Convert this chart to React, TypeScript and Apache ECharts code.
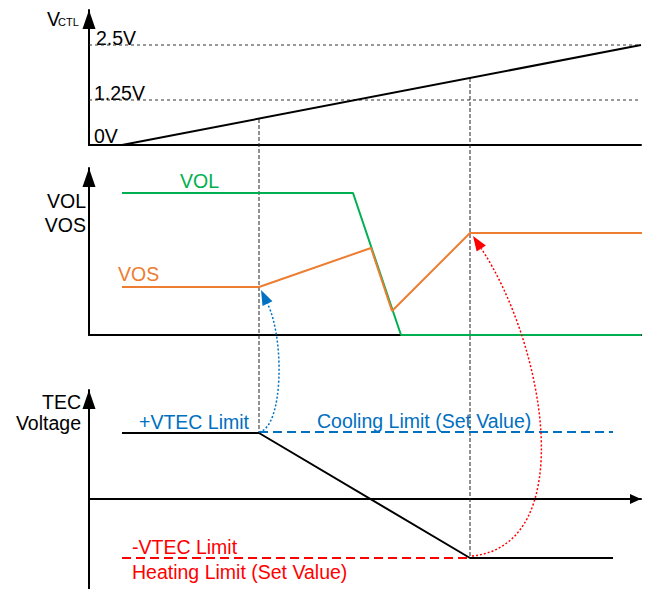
import React, { useEffect, useRef } from 'react';
import * as echarts from 'echarts';

// ---- data (time axis: 0..552 units from the vertical axes) ----
const T_MAX = 552;

// Top panel: V_CTL ramp and reference levels
const vctlRamp = [[33, 0], [552, 100]];
const vctlLevels = [
  { name: '2.5V', value: 100 },
  { name: '1.25V', value: 45 },
];
const vctlLabels = ['0V'];

// Middle panel: VOL / VOS
const volLine = [[33, 142], [264, 142], [312, 0], [552, 0]];
const vosLine = [[33, 48], [170, 48], [282, 87], [303, 24], [381, 102], [558, 102]];

// Bottom panel: TEC voltage
const tecLine = [[33, 66], [170, 66], [381, -59], [524, -59]];
const coolingLimit = [[170, 67], [524, 67]];
const heatingLimit = [[33, -59], [381, -59]];

// Overlay (y measured downward from the top of the drawing)
const markerLines = [
  [[170, 119], [170, 433]],
  [[381, 78], [381, 558]],
];
const blueCurve = [[170, 432], [194, 428], [196, 340], [172, 290]];
const redCurve = [[383, 556], [491, 545], [456, 345], [384, 236]];

const GREEN = '#00B050';
const ORANGE = '#ED7D31';
const BLUE = '#0070C0';
const RED = '#FF0000';
const FONT = '"Liberation Sans", Arial, sans-serif';
const FS = 19.5;

export default function App() {
  const ref = useRef<HTMLDivElement>(null);
  useEffect(() => {
    document.body.style.margin = '0';
    const chart = echarts.init(ref.current!, null, { renderer: 'svg' });

    const hiddenX = (gi: number, showLine: boolean, arrow = false) => ({
      type: 'value', gridIndex: gi, min: 0, max: T_MAX,
      axisLine: {
        show: showLine, onZero: true,
        lineStyle: { color: '#000', width: 2 },
        symbol: arrow ? ['none', 'triangle'] : ['none', 'none'],
        symbolSize: [10, 11],
        symbolOffset: [0, -5.5],
      },
      axisTick: { show: false }, axisLabel: { show: false }, splitLine: { show: false },
    });
    const arrowY = (gi: number, min: number, max: number) => ({
      type: 'value', gridIndex: gi, min, max,
      axisLine: {
        show: true, onZero: false,
        lineStyle: { color: '#000', width: 2 },
        symbol: ['none', 'triangle'],
        symbolSize: [13, 19],
        symbolOffset: [0, -9.5],
      },
      axisTick: { show: false }, axisLabel: { show: false }, splitLine: { show: false },
    });

    const lineS = (data: number[][], gi: number, color: string, width = 2, dash: any = 'solid', z = 3, clip = true) => ({
      type: 'line', xAxisIndex: gi, yAxisIndex: gi, data,
      symbol: 'none', showSymbol: false, clip, z,
      lineStyle: { color, width, type: dash },
      silent: true,
    });

    const curves = [
      { pts: blueCurve, color: BLUE },
      { pts: redCurve, color: RED },
    ];

    const txt = (text: string, x: number, y: number, fill = '#000', align = 'left', size = FS) => ({
      type: 'text', x, y, silent: true,
      style: { text, fill, font: `${size}px ${FONT}`, align, verticalAlign: 'middle' },
    });

    chart.setOption({
      animation: false,
      grid: [
        { left: 89, right: 12, top: 10, height: 135 },
        { left: 89, right: 12, top: 168, height: 167 },
        { left: 89, right: 12, top: 390, height: 199 },
        { left: 89, right: 12, top: 0, height: 589 },
      ],
      xAxis: [
        hiddenX(0, true),
        hiddenX(1, true),
        hiddenX(2, true, true),
        { ...hiddenX(3, false) },
      ],
      yAxis: [
        arrowY(0, 0, 135),
        arrowY(1, 0, 167),
        arrowY(2, -90, 109),
        { type: 'value', gridIndex: 3, min: 0, max: 589, inverse: true, show: false },
      ],
      series: [
        // overlay vertical marker lines
        ...markerLines.map((m) => lineS(m, 3, '#222', 1, [4, 2], 1, false)),
        // top
        ...vctlLevels.map((l) => lineS([[0, l.value], [T_MAX, l.value]], 0, '#333', 1, [3, 3], 2)),
        lineS(vctlRamp, 0, '#000', 2),
        // middle
        lineS(volLine, 1, GREEN, 2, 'solid', 3),
        lineS(vosLine, 1, ORANGE, 2, 'solid', 4, false),
        // bottom
        lineS(heatingLimit, 2, RED, 2, [9, 5], 3),
        lineS(coolingLimit, 2, BLUE, 2, [9, 5], 3),
        lineS(tecLine, 2, '#000', 2, 'solid', 4, false),
        // curved arrows
        {
          type: 'custom', xAxisIndex: 3, yAxisIndex: 3, coordinateSystem: 'cartesian2d',
          clip: false, silent: true, z: 5,
          data: curves.map((c, i) => [c.pts[0][0], c.pts[0][1], i]),
          encode: { x: 0, y: 1 },
          renderItem: (params: any, api: any) => {
            const c = curves[params.dataIndex];
            const p = c.pts.map((q) => api.coord(q));
            const [p0, p1, p2, p3] = p;
            const dx = p3[0] - p2[0], dy = p3[1] - p2[1];
            const len = Math.hypot(dx, dy) || 1;
            const ux = dx / len, uy = dy / len;
            const L = 15, hw = 5.5;
            const base = [p3[0] - ux * L, p3[1] - uy * L];
            const tri = [
              p3,
              [base[0] - uy * hw, base[1] + ux * hw],
              [base[0] + uy * hw, base[1] - ux * hw],
            ];
            return {
              type: 'group',
              children: [
                {
                  type: 'bezierCurve',
                  shape: { x1: p0[0], y1: p0[1], cpx1: p1[0], cpy1: p1[1], cpx2: p2[0], cpy2: p2[1], x2: base[0], y2: base[1] },
                  style: { fill: 'none', stroke: c.color, lineWidth: 1.5, lineDash: [2, 2] },
                },
                { type: 'polygon', shape: { points: tri }, style: { fill: c.color } },
              ],
            };
          },
        },
      ],
      graphic: [
        txt('V', 47, 19),
        txt('CTL', 58, 22, '#000', 'left', 11),
        txt(vctlLevels[0].name, 96, 38),
        txt(vctlLevels[1].name, 94, 92.5),
        txt(vctlLabels[0], 94, 135.5),
        txt('VOL', 180, 181, GREEN),
        txt('VOS', 118, 273.5, ORANGE),
        txt('VOL', 86, 200.5, '#000', 'right'),
        txt('VOS', 86, 225, '#000', 'right'),
        txt('TEC', 81, 401.5, '#000', 'right'),
        txt('Voltage', 81, 423, '#000', 'right'),
        txt('+VTEC Limit', 139, 421.5, BLUE),
        txt('Cooling Limit (Set Value)', 317, 421, BLUE),
        txt('-VTEC Limit', 132, 547, RED),
        txt('Heating Limit (Set Value)', 132, 571.5, RED),
      ],
    });
    return () => chart.dispose();
  }, []);
  return <div ref={ref} style={{ width: 653, height: 589 }} />;
}
